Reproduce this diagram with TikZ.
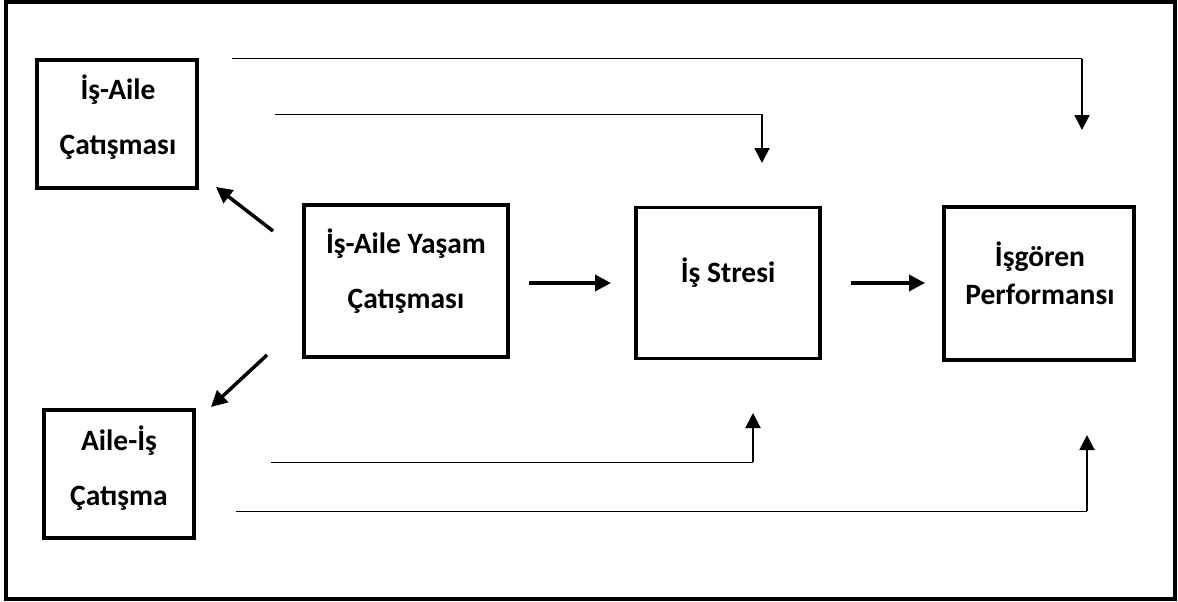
\documentclass[tikz,border=0pt]{standalone}
\usepackage{fontspec}
\setmainfont{Carlito}
\usetikzlibrary{arrows.meta}

\tikzset{
  kutu/.style={draw, line width=3.5pt, inner sep=0pt},
  yazi/.style={align=center, font=\bfseries\fontsize{29.5}{55}\selectfont},
  okkalin/.style={line width=3.5pt, -{Triangle[width=16pt,length=16pt]}},
  ince/.style={line width=1pt},
  okince/.style={line width=2pt, -{Triangle[width=15pt,length=15pt]}}
}

\begin{document}
\begin{tikzpicture}[x=1pt,y=-1pt]
  \useasboundingbox (0,0) rectangle (1178,602);
  \draw[line width=4pt] (6,2) rectangle (1174.5,598.5);

  % kutular
  \node[kutu, minimum width=160, minimum height=128] (isaile) at (117,124) {};
  \node[kutu, minimum width=204, minimum height=152] (yasam) at (406,281) {};
  \node[kutu, minimum width=184, minimum height=151] (stres) at (728,283) {};
  \node[kutu, minimum width=190, minimum height=153] (perf) at (1039,283.5) {};
  \node[kutu, minimum width=150, minimum height=128] (aileis) at (119,474) {};

  % yazilar
  \node[yazi] (isaileT) at (118,117) {İş-Aile\\Çatışması};
  \node[yazi] (yasamT) at (406,271) {İş-Aile Yaşam\\Çatışması};
  \node[yazi] (stresT) at (728,273) {İş Stresi};
  \node[yazi, font=\bfseries\fontsize{29.5}{38}\selectfont] (perfT) at (1040,273) {İşgören\\Performansı};
  \node[yazi] (aileisT) at (119,468) {Aile-İş\\Çatışma};

  % oklar
  \coordinate (d1) at (273,231); \coordinate (u1) at (216,187);
  \coordinate (d2) at (267,355); \coordinate (u2) at (211,407);
  \coordinate (s1) at (529,283); \coordinate (s2) at (611,283);
  \coordinate (s3) at (851,283); \coordinate (s4) at (925,283);
  \draw[okkalin] (d1) -- (u1);
  \draw[okkalin] (d2) -- (u2);
  \draw[okkalin] (s1) -- (s2);
  \draw[okkalin] (s3) -- (s4);

  % ince baglantilar
  \coordinate (a1) at (232,59);  \coordinate (a2) at (1082,59);  \coordinate (a3) at (1082,130);
  \coordinate (b1) at (275,114); \coordinate (b2) at (762,114);  \coordinate (b3) at (762,163);
  \coordinate (c1) at (271,462); \coordinate (c2) at (753,462);  \coordinate (c3) at (753,413);
  \coordinate (e1) at (236,511); \coordinate (e2) at (1087,511); \coordinate (e3) at (1087,435);
  \draw[ince] (a1) -- (a2); \draw[okince] (a2) -- (a3);
  \draw[ince] (b1) -- (b2); \draw[okince] (b2) -- (b3);
  \draw[ince] (c1) -- (c2); \draw[okince] (c2) -- (c3);
  \draw[ince] (e1) -- (e2); \draw[okince] (e2) -- (e3);
\end{tikzpicture}
\end{document}
